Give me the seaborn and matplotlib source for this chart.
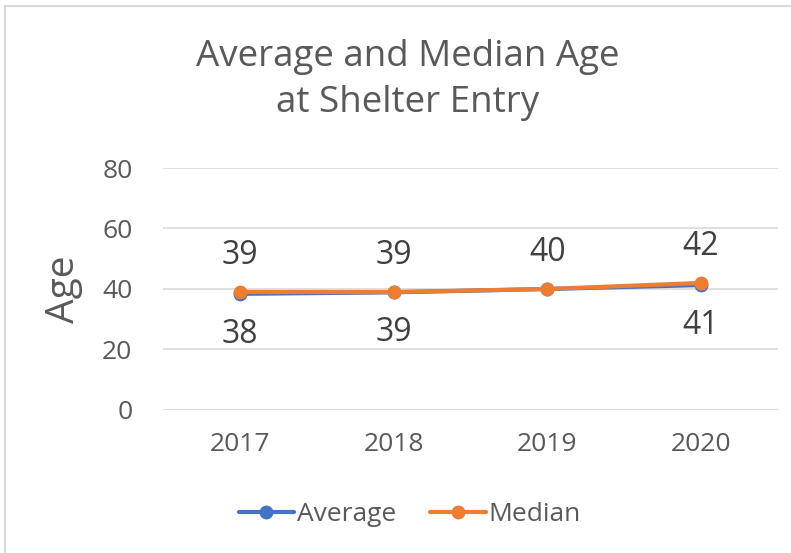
import matplotlib
matplotlib.use('Agg')
import matplotlib.pyplot as plt
import pandas as pd
import seaborn as sns
from matplotlib.patches import Rectangle

years = ['2017', '2018', '2019', '2020']
average_age = [38.4, 38.9, 40.0, 41.3]
median_age = [39, 39, 40, 42]
y_ticks = [0, 20, 40, 60, 80]

BLUE = '#4472C4'
ORANGE = '#ED7D31'
GREY = '#595959'
FONT = ['Open Sans', 'DejaVu Sans']


def age_plot():
	df = pd.DataFrame({
		'Year': years * 2,
		'Age': average_age + median_age,
		'Series': ['Average'] * len(years) + ['Median'] * len(years),
	})

	sns.set_style('white')
	plt.rcParams['font.family'] = FONT

	fig = plt.figure(figsize=(7.91, 5.53), dpi=100)
	ax = fig.add_axes([0.206, 0.2586, 0.7776, 0.4376])

	g = sns.lineplot(data=df, x='Year', y='Age', hue='Series',
					 palette={'Average': BLUE, 'Median': ORANGE},
					 marker='o', markersize=10, markeredgewidth=0,
					 linewidth=3, ax=ax)

	ax.set_xlim(-0.5, len(years) - 0.5)
	ax.set_ylim(0, 80)
	ax.set_yticks(y_ticks)
	ax.grid(axis='y', color='#D9D9D9', linewidth=1.2)
	ax.grid(axis='x', visible=False)
	for s in ax.spines.values():
		s.set_visible(False)
	ax.tick_params(axis='both', length=0, labelsize=19, colors=GREY)
	ax.tick_params(axis='y', pad=22)
	ax.tick_params(axis='x', pad=16)

	ax.set_xlabel('')
	ax.set_ylabel('Age', fontsize=28, color=GREY, labelpad=14)

	# data labels: median above, average below (2019 overlaps, shown once)
	for i, v in enumerate(median_age):
		ax.annotate(f'{v:.0f}', (i, v), xytext=(0, 26), textcoords='offset points',
					ha='center', va='center', fontsize=23, color='#404040')
	for i, v in enumerate(average_age):
		if i == 2:
			continue
		ax.annotate(f'{v:.0f}', (i, v), xytext=(0, -29), textcoords='offset points',
					ha='center', va='center', fontsize=23, color='#404040')

	fig.text(0.515, 0.855, 'Average and Median Age\nat Shelter Entry', ha='center', va='center',
			 fontsize=26.5, color=GREY, linespacing=1.38)

	handles, labels = ax.get_legend_handles_labels()
	ax.legend(handles, labels, loc='center', bbox_to_anchor=(0.518, 0.069),
			  bbox_transform=fig.transFigure, ncol=2, frameon=False,
			  fontsize=19, labelcolor=GREY, handlelength=2.1, handletextpad=0.1,
			  columnspacing=1.3)

	fig.patches.append(Rectangle((5 / 791, -0.05), 1.2, 1.05 - 6 / 553,
								 transform=fig.transFigure, fill=False,
								 edgecolor='#D9D9D9', linewidth=1.5))

	plt.savefig('out.png', dpi=100)


age_plot()
